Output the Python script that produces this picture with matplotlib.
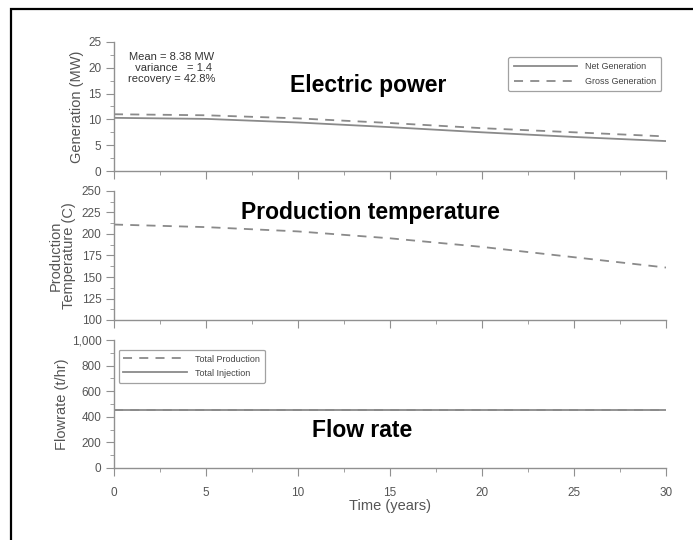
import numpy as np
import matplotlib.pyplot as plt
from matplotlib.patches import Rectangle
from matplotlib.ticker import MultipleLocator, FuncFormatter

plt.rcParams['font.family'] = ['Liberation Sans', 'DejaVu Sans']

# data
years = [0, 5, 10, 15, 20, 25, 30]
net_generation = [10.3, 10.1, 9.4, 8.5, 7.5, 6.6, 5.8]
gross_generation = [11.0, 10.8, 10.2, 9.3, 8.3, 7.5, 6.7]
prod_temperature = [211, 208, 203, 195, 185, 173, 161]
total_production = [452, 452, 452, 452, 452, 452, 452]
total_injection = [450, 450, 450, 450, 450, 450, 450]

grey = '#8a8a8a'
axis_grey = '#909090'
text_grey = '#555555'

fig = plt.figure(figsize=(6.93, 5.4), dpi=100)
fig.patch.set_facecolor('white')
fig.add_artist(Rectangle((11 / 693, -0.05), 1.0, 1 - 9 / 540 + 0.05, transform=fig.transFigure,
                         fill=False, edgecolor='black', linewidth=1.6))

left, width = 114 / 693, 552 / 693


def make_axes(top_px, bottom_px):
    ax = fig.add_axes([left, 1 - bottom_px / 540, width, (bottom_px - top_px) / 540])
    ax.set_facecolor('none')
    for s in ['top', 'right']:
        ax.spines[s].set_visible(False)
    for s in ['left', 'bottom']:
        ax.spines[s].set_color(axis_grey)
        ax.spines[s].set_linewidth(1.0)
    ax.tick_params(which='both', direction='out', colors=axis_grey, labelcolor=text_grey, labelsize=8.5)
    ax.tick_params(which='major', length=5.5)
    ax.tick_params(which='minor', length=3)
    ax.set_xlim(0, 30)
    ax.xaxis.set_major_locator(MultipleLocator(5))
    ax.xaxis.set_minor_locator(MultipleLocator(2.5))
    return ax


def style_legend(leg):
    leg.get_frame().set_edgecolor(grey)
    leg.get_frame().set_linewidth(0.9)
    for t in leg.get_texts():
        t.set_color('#444444')


# Electric power
ax1 = make_axes(42, 171)
ax1.plot(years, net_generation, color=grey, lw=1.3, ls='-', label='Net Generation')
ax1.plot(years, gross_generation, color=grey, lw=1.3, ls=(0, (5, 4)), label='Gross Generation')
ax1.set_ylim(0, 25)
ax1.yaxis.set_major_locator(MultipleLocator(5))
ax1.yaxis.set_minor_locator(MultipleLocator(2.5))
ax1.set_xticklabels([])
ax1.set_ylabel('Generation (MW)', color=text_grey, fontsize=10.5)
ax1.text(0.105, 0.925, 'Mean = 8.38 MW\n variance   = 1.4\nrecovery = 42.8%', transform=ax1.transAxes,
         ha='center', va='top', fontsize=8, color='#333333', linespacing=1.15)
ax1.text(0.46, 0.66, 'Electric power', transform=ax1.transAxes, ha='center', va='center',
         fontsize=16.5, fontweight='bold', color='black')
leg1 = ax1.legend(loc='upper right', bbox_to_anchor=(1.0, 0.92), fontsize=6.5, frameon=True,
                  fancybox=True, handlelength=7, borderpad=0.6, labelspacing=0.6, handletextpad=0.9)
style_legend(leg1)

# Production temperature
ax2 = make_axes(191, 320)
ax2.plot(years, prod_temperature, color=grey, lw=1.3, ls=(0, (5, 4)))
ax2.set_ylim(100, 250)
ax2.yaxis.set_major_locator(MultipleLocator(25))
ax2.yaxis.set_minor_locator(MultipleLocator(12.5))
ax2.set_xticklabels([])
ax2.set_ylabel('Production\nTemperature (C)', color=text_grey, fontsize=10.5, linespacing=1.0)
ax2.text(0.465, 0.83, 'Production temperature', transform=ax2.transAxes, ha='center', va='center',
         fontsize=16.5, fontweight='bold', color='black')

# Flow rate
ax3 = make_axes(340, 468)
ax3.plot(years, total_production, color=grey, lw=1.3, ls=(0, (5, 4)), label='Total Production')
ax3.plot(years, total_injection, color=grey, lw=1.3, ls='-', label='Total Injection')
ax3.set_ylim(0, 1000)
ax3.yaxis.set_major_locator(MultipleLocator(200))
ax3.yaxis.set_minor_locator(MultipleLocator(100))
ax3.yaxis.set_major_formatter(FuncFormatter(lambda v, p: f'{int(v):,}'))
ax3.set_ylabel('Flowrate (t/hr)', color=text_grey, fontsize=10.5)
ax3.set_xlabel('Time (years)', color=text_grey, fontsize=10.5, labelpad=0)
ax3.tick_params(axis='x', which='major', pad=8)
ax3.text(0.45, 0.29, 'Flow rate', transform=ax3.transAxes, ha='center', va='center',
         fontsize=16.5, fontweight='bold', color='black')
leg3 = ax3.legend(loc='upper left', bbox_to_anchor=(0.0, 0.96), fontsize=6.5, frameon=True,
                  fancybox=True, handlelength=7, borderpad=0.55, labelspacing=0.55, handletextpad=0.9)
style_legend(leg3)

ax1.yaxis.set_label_coords(-0.054, 0.5)
ax2.yaxis.set_label_coords(-0.068, 0.5)
ax3.yaxis.set_label_coords(-0.082, 0.5)

fig.savefig('out.png', dpi=100, facecolor='white')
